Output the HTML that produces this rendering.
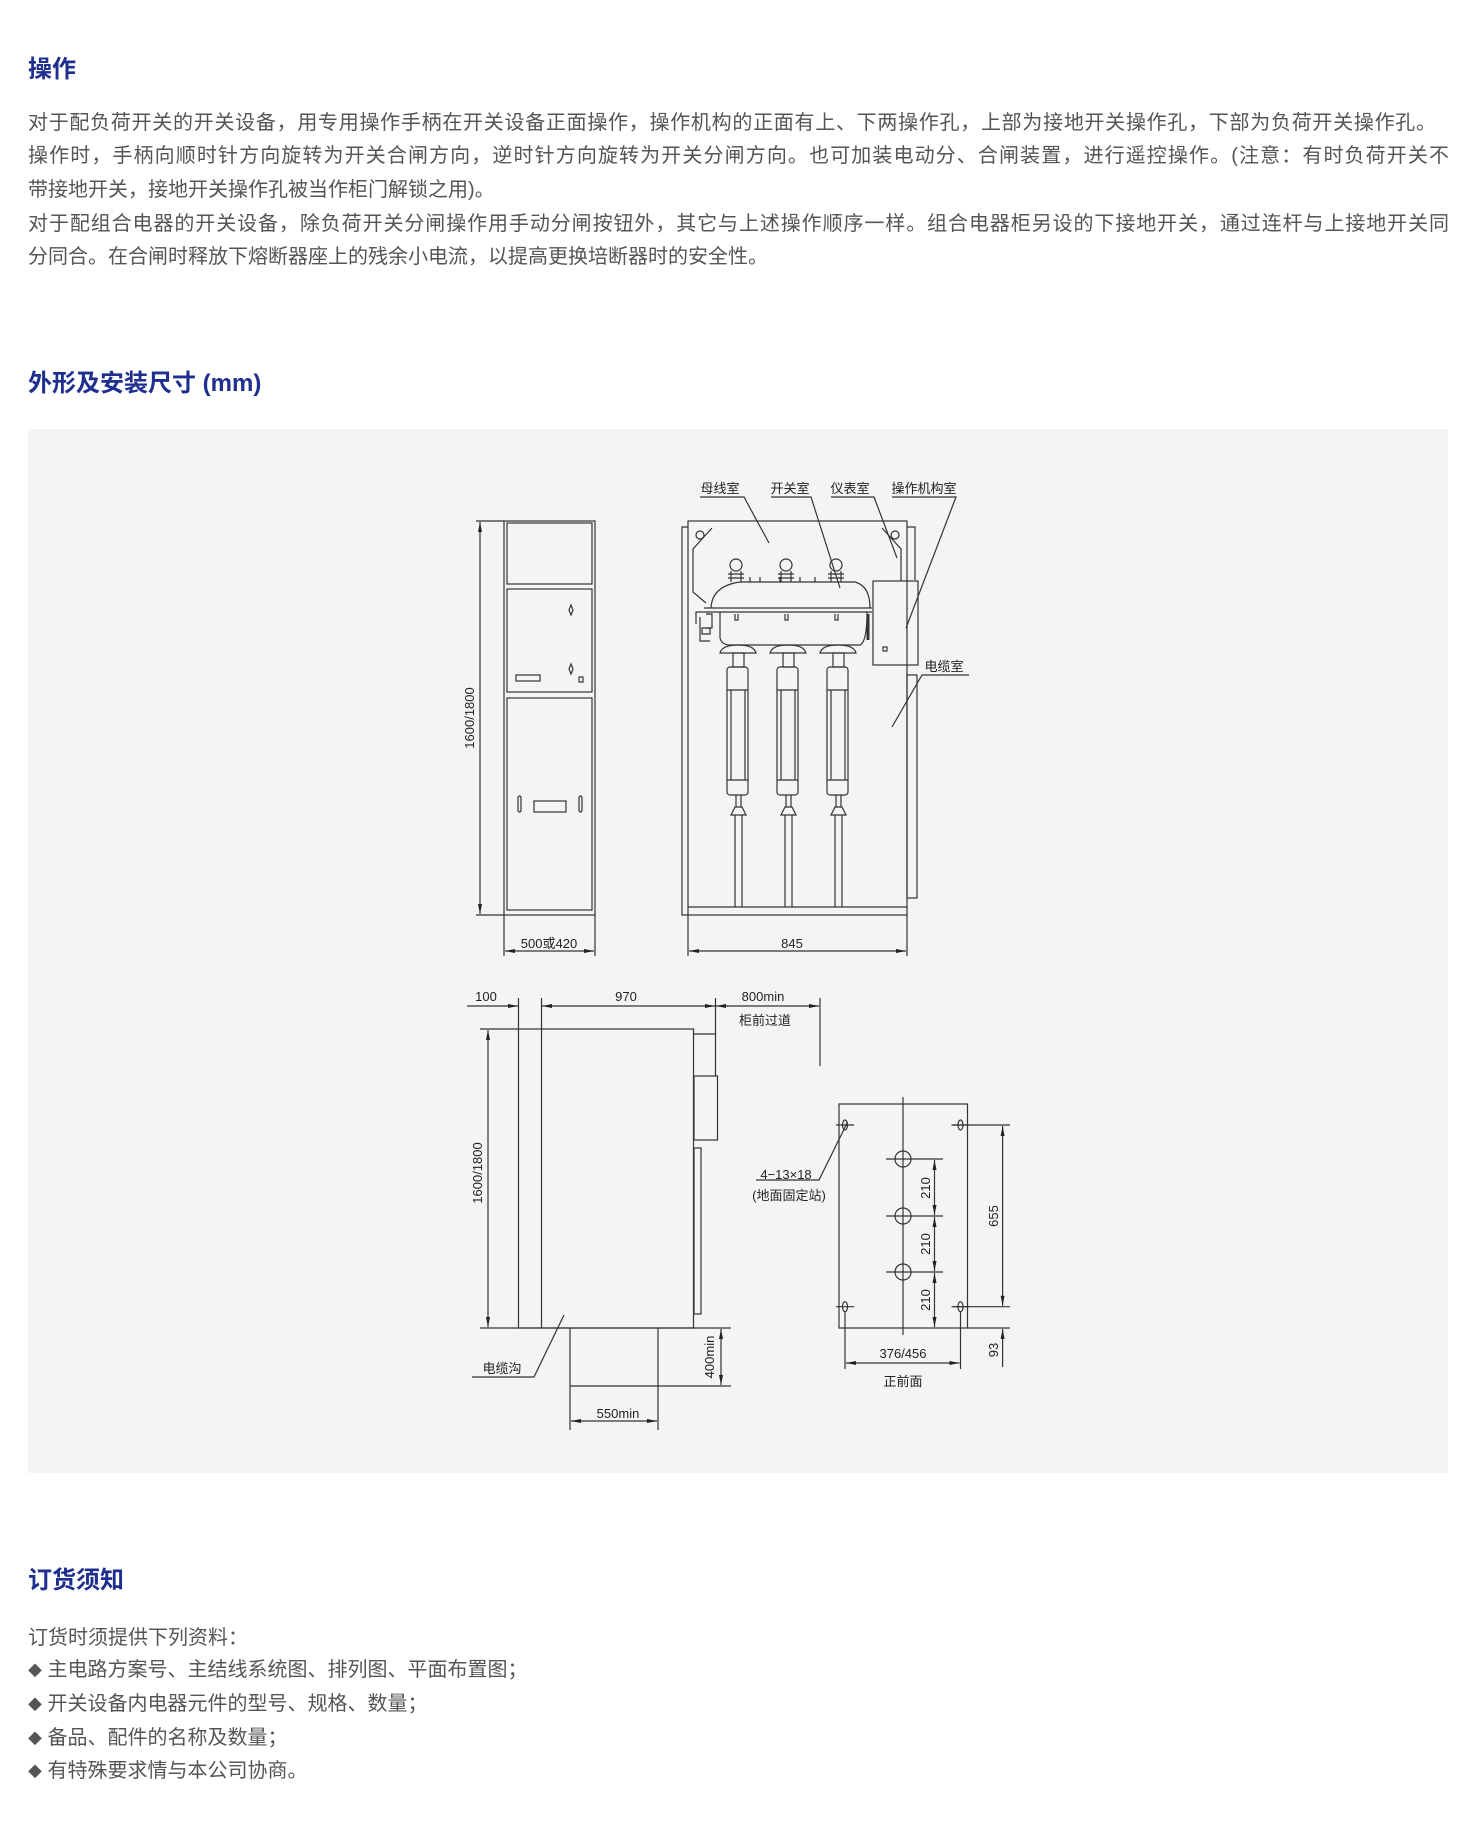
<!DOCTYPE html>
<html><head><meta charset="utf-8">
<style>
body{margin:0;background:#fff;width:1464px;height:1834px;position:relative;font-family:"Liberation Sans","Noto Sans CJK SC",sans-serif;overflow:hidden}
.h{position:absolute;left:28px;font-size:24px;font-weight:bold;color:#1f2f8f;line-height:30px;margin:0}
.p{position:absolute;left:28px;font-size:20px;color:#555;line-height:24px;white-space:nowrap}
.j{text-align:justify;text-align-last:justify}
.box{position:absolute;left:28px;top:429px;width:1420px;height:1044px;background:#f4f4f4}
svg{position:absolute;left:0;top:0}
svg text{font-family:"Liberation Sans","Noto Sans CJK SC",sans-serif;fill:#222}
</style></head><body>
<div class="h" style="top:55px">操作</div>
<div class="p j" style="top:111px;width:1408px">对于配负荷开关的开关设备，用专用操作手柄在开关设备正面操作，操作机构的正面有上、下两操作孔，上部为接地开关操作孔，下部为负荷开关操作孔。</div>
<div class="p j" style="top:144px;width:1421px">操作时，手柄向顺时针方向旋转为开关合闸方向，逆时针方向旋转为开关分闸方向。也可加装电动分、合闸装置，进行遥控操作。(注意：有时负荷开关不</div>
<div class="p" style="top:178px">带接地开关，接地开关操作孔被当作柜门解锁之用)。</div>
<div class="p j" style="top:212px;width:1421px">对于配组合电器的开关设备，除负荷开关分闸操作用手动分闸按钮外，其它与上述操作顺序一样。组合电器柜另设的下接地开关，通过连杆与上接地开关同</div>
<div class="p" style="top:245px">分同合。在合闸时释放下熔断器座上的残余小电流，以提高更换培断器时的安全性。</div>
<div class="h" style="top:369px">外形及安装尺寸 (mm)</div>
<div class="box"></div>
<div class="h" style="top:1566px">订货须知</div>
<div class="p" style="top:1626px">订货时须提供下列资料：</div>
<div class="p" style="top:1658px"><span style="font-size:14px">◆</span> 主电路方案号、主结线系统图、排列图、平面布置图；</div>
<div class="p" style="top:1692px"><span style="font-size:14px">◆</span> 开关设备内电器元件的型号、规格、数量；</div>
<div class="p" style="top:1726px"><span style="font-size:14px">◆</span> 备品、配件的名称及数量；</div>
<div class="p" style="top:1759px"><span style="font-size:14px">◆</span> 有特殊要求情与本公司协商。</div>

<svg width="1464" height="1834" viewBox="0 0 1464 1834">
<defs>
<marker id="a" viewBox="0 0 10 4" refX="10" refY="2" markerWidth="10" markerHeight="4" markerUnits="userSpaceOnUse" orient="auto-start-reverse"><path d="M0,0L10,2L0,4z" fill="#222"/></marker>
</defs>
<g stroke="#333" stroke-width="1.2" fill="none">
<!-- Left front cabinet -->
<rect x="504" y="521" width="91" height="394"/>
<rect x="507" y="523" width="85" height="61"/>
<rect x="507" y="589" width="85" height="103"/>
<rect x="507" y="698" width="85" height="212"/>
<line x1="476" y1="521" x2="504" y2="521"/><line x1="476" y1="915" x2="504" y2="915"/>
<line x1="480" y1="522" x2="480" y2="914" marker-start="url(#a)" marker-end="url(#a)"/>
<line x1="504" y1="915" x2="504" y2="956"/><line x1="595" y1="915" x2="595" y2="956"/>
<line x1="505" y1="951" x2="594" y2="951" marker-start="url(#a)" marker-end="url(#a)"/>
<path d="M571,605l2,5l-2,5l-2,-5z"/><path d="M571,664l2,5l-2,5l-2,-5z"/>
<rect x="516" y="675" width="24" height="6"/><rect x="579" y="677" width="4" height="5"/>
<rect x="518" y="796" width="3" height="16" rx="1.5"/><rect x="579" y="796" width="3" height="16" rx="1.5"/>
<rect x="534" y="801" width="32" height="11"/>
<!-- Right section view -->
<rect x="688" y="521" width="219" height="394"/>
<polyline points="688,527 682,527 682,915 688,915"/>
<polyline points="907,527 915,527 915,580"/>
<line x1="688" y1="907" x2="907" y2="907"/>
<rect x="907" y="675" width="10" height="223"/>
<circle cx="700" cy="535" r="4"/><circle cx="895" cy="535" r="4"/>
<polyline points="712,528 693,549 693,592 706,603"/>
<polyline points="882,528 901,549 901,581"/>
<rect x="873" y="581" width="45" height="84"/>
<rect x="883" y="647" width="4" height="4"/>
<!-- switch body -->
<path d="M711,608 Q712,586 740,582 L855,582 Q870,586 870,608"/>
<line x1="704" y1="608" x2="872" y2="608"/><line x1="704" y1="612" x2="872" y2="612"/>
<path d="M720,612 L720,638 Q722,645 730,645 L860,645 Q867,642 867,612"/>
<path d="M704,612 L696,612 L696,624 M700,617 L700,641 L710,641 M706,614 L712,614 L712,628 L706,628"/>
<path d="M702,628h8v6h-8z"/>
<line x1="868" y1="614" x2="868" y2="640" stroke-width="3"/>
<g id="ph">
<circle cx="736" cy="565" r="6"/><path d="M731,571 L731,582 M741,571 L741,582 M728,574h16M728,578h16"/>
<path d="M735,614 v6 h3 v-6"/>
<path d="M720,653 Q722,645 738,645 Q754,645 756,653 Z"/>
<rect x="733" y="653" width="11" height="14"/>
<rect x="727" y="667" width="21" height="128" rx="3"/>
<line x1="727" y1="690" x2="748" y2="690"/><line x1="727" y1="780" x2="748" y2="780"/>
<line x1="731" y1="690" x2="731" y2="780"/><line x1="745" y1="690" x2="745" y2="780"/>
<line x1="736" y1="795" x2="736" y2="807"/><line x1="741" y1="795" x2="741" y2="807"/>
<path d="M731,815 L735,807 L742,807 L746,815 Z"/>
<line x1="735" y1="815" x2="735" y2="907"/><line x1="742" y1="815" x2="742" y2="907"/>
</g>
<use href="#ph" x="50"/><use href="#ph" x="100"/>
<path d="M750,582v-5M760,582v-5M780,582v-5M800,582v-5M815,582v-5"/>
<!-- labels leaders -->
<polyline points="700,497 744,497 769,543"/>
<polyline points="771,497 811,497 840,588"/>
<polyline points="831,497 874,497 897,558"/>
<polyline points="892,497 956,497 906,628"/>
<polyline points="969,675 922,675 892,727"/>
<line x1="688" y1="915" x2="688" y2="956"/><line x1="907" y1="915" x2="907" y2="956"/>
<line x1="689" y1="951" x2="906" y2="951" marker-start="url(#a)" marker-end="url(#a)"/>
<!-- side view -->
<rect x="518.5" y="1029" width="175" height="299"/>
<line x1="541.5" y1="998" x2="541.5" y2="1328"/>
<line x1="518.5" y1="998" x2="518.5" y2="1029"/>
<line x1="480" y1="1029" x2="518" y2="1029"/>
<line x1="480" y1="1328" x2="731" y2="1328"/>
<line x1="488" y1="1030" x2="488" y2="1327" marker-start="url(#a)" marker-end="url(#a)"/>
<polyline points="694,1034 715.5,1034"/>
<line x1="715.5" y1="998" x2="715.5" y2="1076"/>
<rect x="694" y="1076" width="23.5" height="64"/>
<rect x="694" y="1148" width="7" height="166"/>
<line x1="467" y1="1006" x2="518" y2="1006" marker-end="url(#a)"/>
<line x1="542" y1="1006" x2="715" y2="1006" marker-start="url(#a)" marker-end="url(#a)"/>
<line x1="716" y1="1006" x2="819" y2="1006" marker-start="url(#a)" marker-end="url(#a)"/>
<line x1="820" y1="998" x2="820" y2="1066"/>
<line x1="570" y1="1328" x2="570" y2="1430"/><line x1="658" y1="1328" x2="658" y2="1430"/>
<line x1="570" y1="1386" x2="731" y2="1386"/>
<line x1="721" y1="1329" x2="721" y2="1385" marker-start="url(#a)" marker-end="url(#a)"/>
<line x1="571" y1="1421" x2="657" y2="1421" marker-start="url(#a)" marker-end="url(#a)"/>
<polyline points="472,1377 534,1377 564,1315"/>
<!-- floor plan -->
<rect x="839" y="1104" width="128.5" height="224"/>
<line x1="903" y1="1097" x2="903" y2="1335"/>
<g id="ho"><ellipse cx="845" cy="1125" rx="2.5" ry="5"/><line x1="836" y1="1125" x2="854" y2="1125"/></g>
<use href="#ho" x="115.5"/><use href="#ho" y="181.7"/><use href="#ho" x="115.5" y="181.7"/>
<circle cx="903" cy="1159" r="8"/><circle cx="903" cy="1216" r="8"/><circle cx="903" cy="1272" r="8"/>
<line x1="886" y1="1159" x2="943" y2="1159"/><line x1="886" y1="1216" x2="943" y2="1216"/><line x1="886" y1="1272" x2="943" y2="1272"/>
<line x1="934.5" y1="1160" x2="934.5" y2="1215" marker-start="url(#a)" marker-end="url(#a)"/>
<line x1="934.5" y1="1217" x2="934.5" y2="1271" marker-start="url(#a)" marker-end="url(#a)"/>
<line x1="934.5" y1="1273" x2="934.5" y2="1327" marker-start="url(#a)" marker-end="url(#a)"/>
<line x1="953" y1="1125" x2="1010" y2="1125"/><line x1="953" y1="1306.7" x2="1010" y2="1306.7"/>
<line x1="967" y1="1328" x2="1010" y2="1328"/>
<line x1="1002.6" y1="1126" x2="1002.6" y2="1305.7" marker-start="url(#a)" marker-end="url(#a)"/>
<line x1="1002.6" y1="1367" x2="1002.6" y2="1329" marker-end="url(#a)"/>
<line x1="845" y1="1311" x2="845" y2="1369"/><line x1="960.5" y1="1311" x2="960.5" y2="1369"/>
<line x1="846" y1="1363" x2="959.5" y2="1363" marker-start="url(#a)" marker-end="url(#a)"/>
<polyline points="756,1180 819,1180 847.6,1122"/>
</g>
<g font-size="13" text-anchor="middle">
<text x="720" y="493">母线室</text><text x="790" y="493">开关室</text><text x="850" y="493">仪表室</text><text x="924" y="493">操作机构室</text>
<text x="944" y="671">电缆室</text>
<text x="549" y="948">500或420</text><text x="792" y="948">845</text>
<text transform="translate(474,718) rotate(-90)">1600/1800</text>
<text transform="translate(482,1173) rotate(-90)">1600/1800</text>
<text x="486" y="1001">100</text><text x="626" y="1001">970</text><text x="763" y="1001">800min</text>
<text x="765" y="1025">柜前过道</text>
<text x="502" y="1373">电缆沟</text>
<text transform="translate(714,1357) rotate(-90)">400min</text>
<text x="618" y="1418">550min</text>
<text x="786" y="1179">4−13×18</text><text x="789" y="1200">(地面固定站)</text>
<text transform="translate(930,1188) rotate(-90)">210</text>
<text transform="translate(930,1244) rotate(-90)">210</text>
<text transform="translate(930,1300) rotate(-90)">210</text>
<text transform="translate(998,1216) rotate(-90)">655</text>
<text transform="translate(998,1350) rotate(-90)">93</text>
<text x="903" y="1358">376/456</text><text x="903" y="1386">正前面</text>
</g>
</svg>
</body></html>
